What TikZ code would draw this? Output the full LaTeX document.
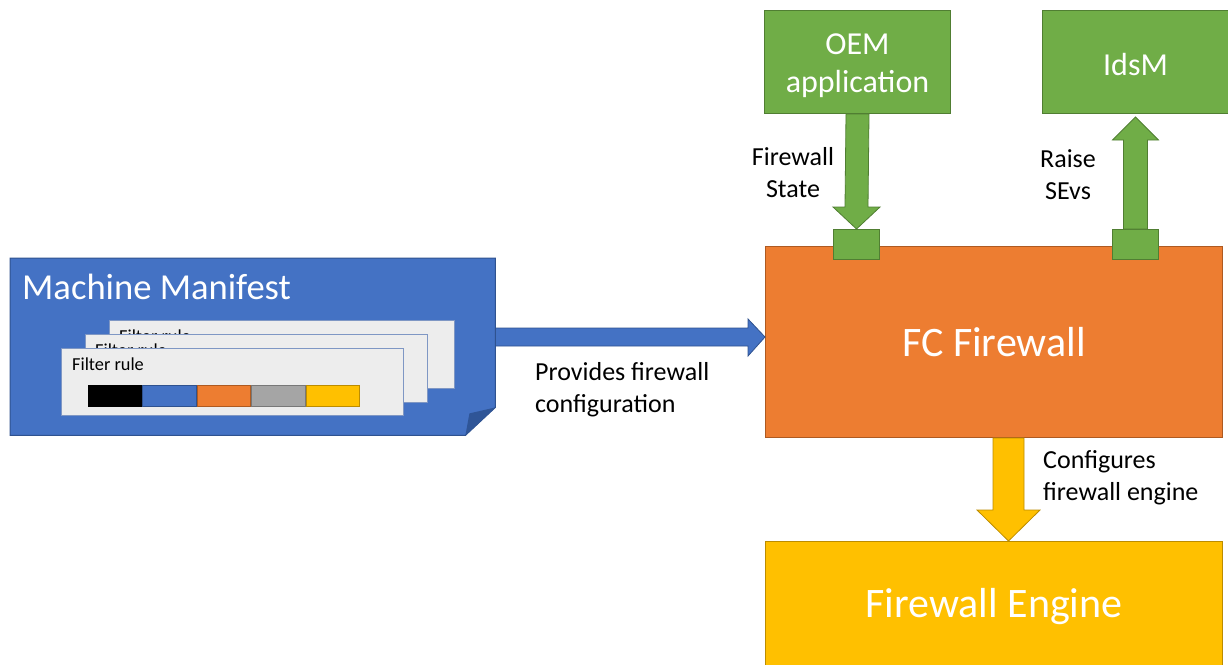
\documentclass[tikz,border=0pt]{standalone}
\usepackage{fontspec}
\setmainfont{Carlito}
\usetikzlibrary{calc}
\definecolor{mblue}{HTML}{4472C4}
\definecolor{mblueb}{HTML}{2F528F}
\definecolor{mfold}{HTML}{2F5597}
\definecolor{morange}{HTML}{ED7D31}
\definecolor{morangeb}{HTML}{AE5A21}
\definecolor{mgreen}{HTML}{70AD47}
\definecolor{mgreenb}{HTML}{507E32}
\definecolor{myellow}{HTML}{FFC000}
\definecolor{myellowb}{HTML}{BC8C00}
\definecolor{mgray}{HTML}{A5A5A5}
\definecolor{mgrayb}{HTML}{787878}
\definecolor{mcard}{HTML}{EDEDED}
\definecolor{mcardb}{HTML}{7F97C4}
\begin{document}
\begin{tikzpicture}[x=1pt,y=-1pt,
  box/.style={draw, line width=1pt, inner sep=0pt, anchor=north west},
  greenbox/.style={box, fill=mgreen, draw=mgreenb},
  greentxt/.style={inner sep=0pt, text=white, align=center, font=\fontsize{32}{38}\selectfont},
  bigbox/.style={box, text=white, font=\fontsize{42}{50}\selectfont},
  card/.style={box, fill=mcard, draw=mcardb, line width=0.8pt},
  cardtxt/.style={anchor=base west, inner sep=0pt, font=\fontsize{18.3}{22}\selectfont},
  swatch/.style={box, minimum width=53.6pt, minimum height=21pt, line width=0.8pt},
  lbl/.style={inner sep=0pt, font=\fontsize{26}{32}\selectfont},
  garrow/.style={fill=mgreen, draw=mgreenb, line width=0.8pt},
  barrow/.style={fill=mblue, draw=mblueb, line width=0.8pt},
  yarrow/.style={fill=myellow, draw=myellowb, line width=0.8pt}]
\useasboundingbox (0,0) rectangle (1228,664);

% manifest
\node[inner sep=0pt, minimum width=485pt, minimum height=177pt, anchor=north west] (mm) at (10,258) {};
\draw[fill=mblue, draw=mblueb, line width=1pt] (mm.north west) -- (mm.north east) -- ($(mm.south east)+(0,-28)$) -- ($(mm.south east)+(-30,0)$) -- (mm.south west) -- cycle;
\fill[mfold] ($(mm.south east)+(0,-28)$) -- ($(mm.south east)+(-26,-22)$) -- ($(mm.south east)+(-30,0)$) -- cycle;
\node[anchor=base west, inner sep=0pt, text=white, font=\fontsize{36.6}{44}\selectfont] (mmt) at (22,299) {Machine Manifest};

\node[card, minimum width=345pt, minimum height=68pt] (c3) at (109,320) {};
\node[cardtxt] (t3) at (119,342) {Filter rule};
\node[card, minimum width=342pt, minimum height=68pt] (c2) at (85,334) {};
\node[cardtxt] (t2) at (95,356) {Filter rule};
\node[card, minimum width=342pt, minimum height=67pt] (c1) at (61,348) {};
\node[cardtxt] (t1) at (72,370) {Filter rule};

\node[swatch, fill=black, draw=black] (s1) at (88,385) {};
\node[swatch, fill=mblue, draw=mblueb] (s2) at (s1.north east) {};
\node[swatch, fill=morange, draw=morangeb] (s3) at (s2.north east) {};
\node[swatch, fill=mgray, draw=mgrayb] (s4) at (s3.north east) {};
\node[swatch, fill=myellow, draw=myellowb] (s5) at (s4.north east) {};

% boxes
\node[bigbox, fill=morange, draw=morangeb, minimum width=457pt, minimum height=191pt] (fc) at (765,246) {FC Firewall};
\node[bigbox, fill=myellow, draw=myellowb, minimum width=457pt, minimum height=131pt] (fe) at (765,541) {Firewall Engine};
\node[greenbox, minimum width=186pt, minimum height=103pt] (oem) at (764,10) {};
\node[greentxt] (oemt) at ($(oem.center)+(0,4)$) {OEM\\application};
\node[greenbox, minimum width=186pt, minimum height=103pt] (ids) at (1042,10) {};
\node[greentxt] (idst) at ($(ids.center)+(0,3)$) {IdsM};
\node[box, fill=mgreen, draw=mgreenb, minimum width=46pt, minimum height=30pt] (p1) at (833,229) {};
\node[box, fill=mgreen, draw=mgreenb, minimum width=46pt, minimum height=30pt] (p2) at (1112,229) {};

% blue arrow
\draw[barrow] (mm.east |- 0,328) -- ($(fc.west |- 0,328)+(-17,0)$) -- ($(fc.west |- 0,319)+(-17,0)$) -- (fc.west |- 0,337) -- ($(fc.west |- 0,356)+(-17,0)$) -- ($(fc.west |- 0,346)+(-17,0)$) -- (mm.east |- 0,346) -- cycle;

% green down arrow
\draw[garrow] ($(oem.south)+(-11.5,0)$) -- ($(p1.north)+(-11.5,-22)$) -- ($(p1.north)+(-23.5,-22)$) -- (p1.north) -- ($(p1.north)+(23.5,-22)$) -- ($(p1.north)+(11.5,-22)$) -- ($(oem.south)+(11.5,0)$) -- cycle;

% green up arrow
\draw[garrow] ($(p2.north)+(-12,0)$) -- ($(ids.south)+(-12,26)$) -- ($(ids.south)+(-23,26)$) -- ($(ids.south)+(0,3)$) -- ($(ids.south)+(23,26)$) -- ($(ids.south)+(12,26)$) -- ($(p2.north)+(12,0)$) -- cycle;

% yellow arrow
\coordinate (ya) at ($(fc.south)+(14.5,0)$);
\coordinate (yb) at (ya |- fe.north);
\draw[yarrow] ($(ya)+(-15.5,0)$) -- ($(yb)+(-15.5,-31)$) -- ($(yb)+(-31.5,-31)$) -- (yb) -- ($(yb)+(31.5,-31)$) -- ($(yb)+(15.5,-31)$) -- ($(ya)+(15.5,0)$) -- cycle;

% labels
\node[lbl, anchor=north, align=center] (l1) at (793,142.6) {\strut Firewall\\State};
\node[lbl, anchor=north, align=center] (l2) at (1068,144.6) {\strut Raise\\SEvs};
\node[lbl, anchor=north west, align=left] (l3) at (535,357.6) {\strut Provides firewall\\configuration};
\node[lbl, anchor=north west, align=left] (l4) at (1043,445.6) {\strut Configures\\firewall engine};
\end{tikzpicture}
\end{document}
